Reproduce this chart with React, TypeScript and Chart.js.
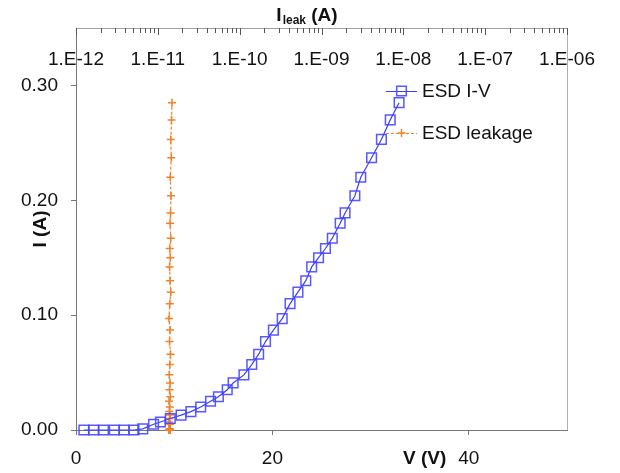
import React, { useEffect, useRef } from 'react';
import { Chart, registerables } from 'chart.js';

Chart.register(...registerables);

// ESD I-V data (V in volts, I in amperes)
const voltage = [0.8, 1.8, 2.8, 3.9, 4.9, 5.9, 6.8, 7.9, 8.6, 9.6, 10.7, 11.7, 12.7, 13.7, 14.5, 15.4, 16.0, 17.1, 17.9, 18.6, 19.3, 20.1, 21.0, 21.8, 22.6, 23.4, 24.0, 24.7, 25.4, 26.1, 26.9, 27.4, 28.4, 29.0, 30.1, 31.1, 32.0, 32.9];
const current = [0, 0, 0, 0, 0, 0, 0.001, 0.005, 0.007, 0.010, 0.013, 0.016, 0.020, 0.025, 0.029, 0.035, 0.041, 0.048, 0.057, 0.066, 0.077, 0.087, 0.097, 0.110, 0.120, 0.130, 0.142, 0.150, 0.158, 0.167, 0.180, 0.189, 0.204, 0.220, 0.237, 0.253, 0.270, 0.285];
// leakage current after each pulse (A)
const leakage = [1.38e-11, 1.40e-11, 1.37e-11, 1.41e-11, 1.39e-11, 1.38e-11, 1.40e-11, 1.42e-11, 1.36e-11, 1.39e-11, 1.41e-11, 1.38e-11, 1.40e-11, 1.37e-11, 1.42e-11, 1.39e-11, 1.41e-11, 1.38e-11, 1.40e-11, 1.43e-11, 1.39e-11, 1.41e-11, 1.37e-11, 1.40e-11, 1.44e-11, 1.41e-11, 1.39e-11, 1.42e-11, 1.40e-11, 1.44e-11, 1.41e-11, 1.43e-11, 1.45e-11, 1.42e-11, 1.46e-11, 1.44e-11, 1.47e-11, 1.49e-11];

const seriesNames = ['ESD I-V', 'ESD leakage'];
const axisTitles = { leak: ['I', 'leak', ' (A)'], v: 'V (V)', i: 'I (A)' };
// top log axis: decade exponents and minor multipliers
const leakDecades = [-12, -11, -10, -9, -8, -7, -6];
const minorSteps = [1, 2, 3, 4, 5, 6, 7, 8, 9];

const FONT = '"Liberation Sans", Arial, sans-serif';
const BLUE = '#3c3cff';
const ORANGE = '#f0822a';

const isDecade = (v: number) => {
  const lg = Math.log10(v);
  return Math.abs(lg - Math.round(lg)) < 1e-6;
};

const logTickValues: { value: number; major: boolean }[] = [];
leakDecades.forEach((e, di) => {
  minorSteps.forEach((m) => {
    if (di === leakDecades.length - 1 && m > 1) return;
    logTickValues.push({ value: m * Math.pow(10, e), major: m === 1 });
  });
});

const decorPlugin = {
  id: 'decor',
  afterDraw(chart: any) {
    const { ctx, chartArea: a, scales } = chart;
    ctx.save();
    // right frame line
    ctx.strokeStyle = '#b0b0b0';
    ctx.lineWidth = 1;
    ctx.beginPath();
    ctx.moveTo(Math.round(a.right) + 0.5, a.top);
    ctx.lineTo(Math.round(a.right) + 0.5, a.bottom);
    ctx.stroke();

    // inward tick marks of the top log axis
    const sx = scales.x2;
    const top = Math.round(a.top);
    ctx.strokeStyle = '#555';
    ctx.lineWidth = 1;
    logTickValues.forEach((t) => {
      const p = sx.getPixelForValue(t.value);
      if (!isFinite(p)) return;
      const px = Math.round(p) + 0.5;
      const len = t.major ? 7 : 5;
      ctx.beginPath();
      ctx.moveTo(px, top);
      ctx.lineTo(px, top + len);
      ctx.stroke();
    });

    // top title with subscript
    ctx.fillStyle = '#111';
    ctx.textBaseline = 'alphabetic';
    const big = 'bold 19px ' + FONT;
    const small = 'bold 12px ' + FONT;
    ctx.font = big;
    const w1 = ctx.measureText(axisTitles.leak[0]).width;
    const w3 = ctx.measureText(axisTitles.leak[2]).width;
    ctx.font = small;
    const w2 = ctx.measureText(axisTitles.leak[1]).width;
    const cx = (a.left + a.right) / 2 - 15;
    let x = cx - (w1 + w2 + w3) / 2;
    const by = a.top - 7;
    ctx.font = big;
    ctx.fillText(axisTitles.leak[0], x, by);
    x += w1 + 1;
    ctx.font = small;
    ctx.fillText(axisTitles.leak[1], x, by + 3);
    x += w2;
    ctx.font = big;
    ctx.fillText(axisTitles.leak[2], x, by);

    // bottom axis title on the tick-label line
    ctx.font = big;
    ctx.textAlign = 'center';
    ctx.textBaseline = 'middle';
    ctx.fillText(axisTitles.v, scales.x.getPixelForValue(35.5), a.bottom + 29);

    // legend
    const x0 = a.left + 310;
    chart.data.datasets.forEach((ds: any, i: number) => {
      const y = a.top + 63 + i * 42;
      ctx.strokeStyle = ds.borderColor;
      ctx.lineWidth = 1;
      ctx.setLineDash(ds.borderDash || []);
      ctx.beginPath();
      ctx.moveTo(x0, y + 0.5);
      ctx.lineTo(x0 + 31, y + 0.5);
      ctx.stroke();
      ctx.setLineDash([]);
      const mx = x0 + 15.5;
      ctx.strokeStyle = ds.pointBorderColor;
      ctx.lineWidth = ds.pointBorderWidth;
      ctx.beginPath();
      if (ds.pointStyle === 'rect') {
        const s = ds.pointRadius * Math.SQRT1_2;
        ctx.rect(mx - s, y - s, 2 * s, 2 * s);
      } else {
        const r = ds.pointRadius;
        ctx.moveTo(mx - r, y); ctx.lineTo(mx + r, y);
        ctx.moveTo(mx, y - r); ctx.lineTo(mx, y + r);
      }
      ctx.stroke();
      ctx.fillStyle = '#111';
      ctx.textAlign = 'left';
      ctx.font = '19px ' + FONT;
      ctx.fillText(ds.label, x0 + 36, y + 1);
    });
    ctx.restore();
  },
};

export default function App() {
  const ref = useRef<HTMLCanvasElement>(null);
  useEffect(() => {
    if (!ref.current) return;
    const ivData = voltage.map((v, i) => ({ x: v, y: current[i] }));
    const leakData = leakage.map((l, i) => ({ x: l, y: current[i] }));
    const chart = new Chart(ref.current, {
      type: 'scatter',
      data: {
        datasets: [
          {
            label: seriesNames[0],
            data: ivData,
            xAxisID: 'x',
            yAxisID: 'y',
            showLine: true,
            clip: false,
            borderColor: BLUE,
            borderWidth: 1.2,
            pointStyle: 'rect',
            pointRadius: 6.8,
            pointBorderColor: 'rgba(70,70,255,0.9)',
            pointBackgroundColor: 'rgba(0,0,0,0)',
            pointBorderWidth: 1.5,
          } as any,
          {
            label: seriesNames[1],
            data: leakData,
            xAxisID: 'x2',
            yAxisID: 'y',
            showLine: true,
            clip: false,
            borderColor: ORANGE,
            borderWidth: 1.2,
            borderDash: [3, 2],
            pointStyle: 'cross',
            pointRadius: 4,
            pointBorderColor: ORANGE,
            pointBackgroundColor: ORANGE,
            pointBorderWidth: 1.5,
          } as any,
        ],
      },
      options: {
        animation: false,
        responsive: false,
        maintainAspectRatio: false,
        layout: { padding: { left: 0, right: 53, top: 0, bottom: 0 } },
        plugins: { legend: { display: false }, tooltip: { enabled: false } },
        scales: {
          x: {
            type: 'linear',
            position: 'bottom',
            min: 0,
            max: 50,
            ticks: {
              stepSize: 20,
              includeBounds: false,
              color: '#111',
              font: { family: FONT, size: 19 },
              padding: 12,
              maxRotation: 0,
            },
            grid: { drawOnChartArea: false, tickLength: 5, color: '#777' },
            border: { color: '#777', width: 1 },
            afterFit: (s: any) => { s.height = 43; },
          },
          x2: {
            type: 'logarithmic',
            position: 'top',
            min: 1e-12,
            max: 1e-6,
            afterBuildTicks: (s: any) => {
              s.ticks = logTickValues.map((t) => ({ value: t.value, major: t.major }));
            },
            ticks: {
              mirror: true,
              padding: 20,
              autoSkip: false,
              maxRotation: 0,
              color: '#111',
              font: { family: FONT, size: 19 },
              callback: (v: any) => {
                const n = Number(v);
                if (!isDecade(n)) return '';
                const e = Math.round(Math.log10(n));
                return '1.E' + (e < 0 ? '-' : '+') + String(Math.abs(e)).padStart(2, '0');
              },
            },
            grid: { drawOnChartArea: false, drawTicks: false, color: '#888' },
            border: { color: '#a0a0a0', width: 1 },
            afterFit: (s: any) => { s.height = 28; },
          },
          y: {
            type: 'linear',
            position: 'left',
            min: 0,
            max: 0.35,
            ticks: {
              stepSize: 0.1,
              includeBounds: false,
              color: '#111',
              font: { family: FONT, size: 19 },
              padding: 13,
              callback: (v: any) => Number(v).toFixed(2),
            },
            title: {
              display: true,
              text: axisTitles.i,
              color: '#111',
              font: { family: FONT, size: 19, weight: 'bold' },
              padding: { top: 29, bottom: 0 },
            },
            grid: { drawOnChartArea: false, tickLength: 5, color: '#777' },
            border: { color: '#777', width: 1 },
            afterFit: (s: any) => { s.width = 76; },
          },
        },
      } as any,
      plugins: [decorPlugin],
    });
    return () => chart.destroy();
  }, []);
  return (
    <div style={{ position: 'absolute', left: 0, top: 0, width: 620, height: 473, background: '#fff' }}>
      <canvas ref={ref} width={620} height={473} style={{ width: 620, height: 473 }} />
    </div>
  );
}
